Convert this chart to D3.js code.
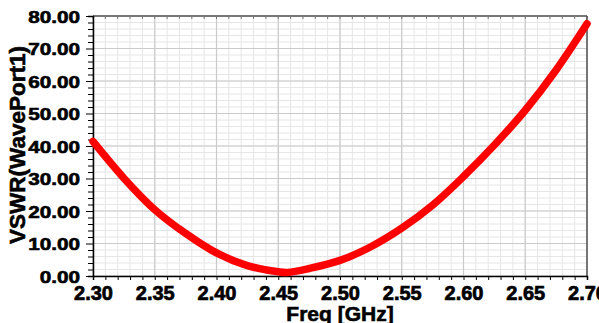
<!DOCTYPE html>
<html><head><meta charset="utf-8">
<script src="https://cdn.jsdelivr.net/npm/d3@7"></script>
<style>body{margin:0;background:#fff}svg{display:block}text{font-family:"Liberation Sans",Arial,sans-serif;font-weight:bold}</style>
</head><body><svg id="c" width="599" height="323"></svg>
<script>
const freq = [2.300,2.325,2.350,2.375,2.400,2.425,2.450,2.4575,2.475,2.500,2.525,2.550,2.575,2.600,2.625,2.650,2.675,2.700];
const vswr = [41.4,30.1,20.4,13.1,7.1,3.2,1.3,1.1,2.3,4.8,9.0,14.7,21.8,30.6,40.3,51.0,63.4,77.6];
const xTicks = [2.30,2.35,2.40,2.45,2.50,2.55,2.60,2.65,2.70];
const yTicks = [0,10,20,30,40,50,60,70,80];
const xTitle = "Freq [GHz]";
const yTitle = "VSWR(WavePort1)";

const svg = d3.select("#c");
const L=93,R=587,T=16,B=276;
const x = d3.scaleLinear().domain([2.30,2.70]).range([L,R]);
const y = d3.scaleLinear().domain([0,80]).range([B,T]);
const xMinor = d3.range(0,41).map(i=>2.30+i*0.01);
const yMinor = d3.range(0,41).map(i=>i*2);

const g = svg.append("g");
g.selectAll(".vm").data(xMinor).join("line").attr("x1",d=>x(d)).attr("x2",d=>x(d)).attr("y1",T).attr("y2",B).attr("stroke","#e6e6e6").attr("stroke-width",1);
g.selectAll(".hm").data(yMinor).join("line").attr("y1",d=>y(d)).attr("y2",d=>y(d)).attr("x1",L).attr("x2",R).attr("stroke","#e6e6e6").attr("stroke-width",1);
g.selectAll(".vM").data(xTicks).join("line").attr("x1",d=>x(d)).attr("x2",d=>x(d)).attr("y1",T).attr("y2",B).attr("stroke","#cacaca").attr("stroke-width",1.2);
g.selectAll(".hM").data(yTicks).join("line").attr("y1",d=>y(d)).attr("y2",d=>y(d)).attr("x1",L).attr("x2",R).attr("stroke","#cacaca").attr("stroke-width",1.2);

svg.append("line").attr("x1",L).attr("x2",R).attr("y1",T).attr("y2",T).attr("stroke","#555").attr("stroke-width",1.5);
svg.selectAll(".tt").data(xMinor).join("line").attr("x1",d=>x(d)).attr("x2",d=>x(d)).attr("y1",T).attr("y2",T+3).attr("stroke","#777");
svg.append("line").attr("x1",R).attr("x2",R).attr("y1",T).attr("y2",B).attr("stroke","#555").attr("stroke-width",1.5);

const xAx = svg.append("g").attr("transform",`translate(0,${B})`)
  .call(d3.axisBottom(x).tickValues(xMinor).tickSize(4).tickFormat(""));
xAx.select(".domain").attr("stroke","#000").attr("stroke-width",1.5);
const xLab = svg.append("g").attr("transform",`translate(0,${B})`)
  .call(d3.axisBottom(x).tickValues(xTicks).tickSize(0).tickPadding(10).tickFormat(d3.format(".2f")));
xLab.select(".domain").remove();
xLab.selectAll("text").attr("font-size",20).attr("fill","#000").attr("stroke","#000").attr("stroke-width",0.7).attr("dy",0).attr("y",24)
  .style("font-family","'Liberation Sans',Arial,sans-serif").style("font-weight","bold");

const yAx = svg.append("g").attr("transform",`translate(${L},0)`)
  .call(d3.axisLeft(y).tickValues(yMinor).tickSize(5).tickFormat(""));
yAx.select(".domain").attr("stroke","#000").attr("stroke-width",1.5);
yAx.selectAll(".tick line").filter(d=>d%10===0).attr("x2",-7);
const yLab = svg.append("g").attr("transform",`translate(${L},0)`)
  .call(d3.axisLeft(y).tickValues(yTicks).tickSize(0).tickPadding(13).tickFormat(d3.format(".2f")));
yLab.select(".domain").remove();
yLab.selectAll("text").attr("font-size",17).attr("fill","#000").attr("stroke","#000").attr("stroke-width",0.6).attr("dy","0.36em")
  .style("font-family","'Liberation Sans',Arial,sans-serif").style("font-weight","bold")
  .attr("transform","scale(1.22,1)").attr("x",-13/1.22);

const line = d3.line().x((d,i)=>x(freq[i])).y(d=>y(d)).curve(d3.curveCatmullRom);
svg.append("path").datum(vswr).attr("d",line).attr("fill","none").attr("stroke","#ff0000").attr("stroke-width",7.5).attr("stroke-linecap","round");

svg.append("text").attr("x",(L+R)/2).attr("y",321).attr("text-anchor","middle").attr("font-size",21).attr("stroke","#000").attr("stroke-width",0.6).text(xTitle);
svg.append("text").attr("transform",`translate(25,${145}) rotate(-90)`).attr("text-anchor","middle").attr("font-size",22.5).attr("stroke","#000").attr("stroke-width",0.6).text(yTitle);
</script></body></html>
